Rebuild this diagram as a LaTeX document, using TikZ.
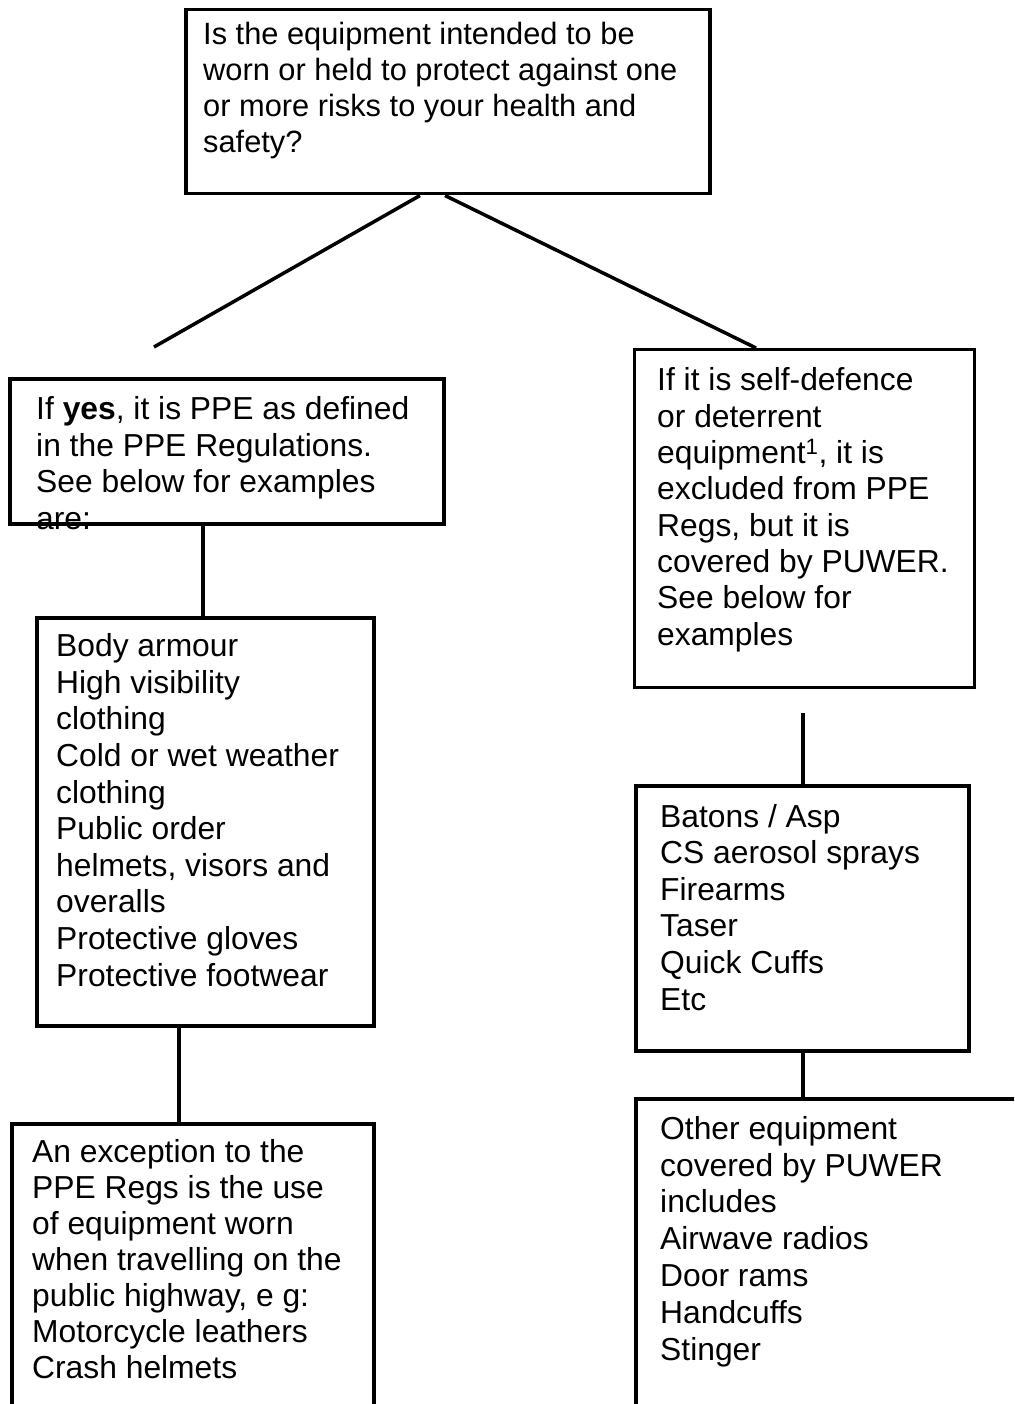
\documentclass[tikz,border=0pt]{standalone}
\usepackage{fontspec}
\setmainfont{Liberation Sans}
\usetikzlibrary{calc}
\begin{document}
\begin{tikzpicture}[x=1pt,y=-1pt,
  box/.style={draw, line width=3.5pt, rectangle, inner sep=0pt, anchor=north west},
  thinbox/.style={box, line width=2.6pt},
  conn/.style={draw, line width=3.5pt},
  txt/.style={anchor=base west, align=left, inner sep=0pt, font=\fontsize{31.8}{36.5}\selectfont}]
\useasboundingbox (0,0) rectangle (1014,1404);
\clip (0,0) rectangle (1014,1404);
\fill[white] (0,0) rectangle (1014,1404);
% boxes
\node[box, minimum width=524, minimum height=184] (q) at (184,8) {};
\node[box, minimum width=434, minimum height=145] (yes) at (8,377) {};
\node[box, minimum width=337, minimum height=408] (ppe) at (35,616) {};
\node[box, minimum width=362, minimum height=400] (exc) at (10,1122) {};
\node[thinbox, minimum width=340, minimum height=338] (def) at (633,348) {};
\node[box, minimum width=333, minimum height=265] (puw) at (634,784) {};
\node[box, minimum width=500, minimum height=400] (oth) at (634,1097) {};
% connectors
\coordinate (ql) at ($(q.south west)+(236,0)$);
\coordinate (qr) at ($(q.south west)+(261,0)$);
\coordinate (lend) at (154,347);
\coordinate (rtop) at (803,713);
\draw[conn] (ql) -- (lend);
\draw[conn] (qr) -- ($(def.north west)+(123,0)$);
\draw[conn] ($(yes.south west)+(195,0)$) -- ($(ppe.north west)+(168,0)$);
\draw[conn] ($(ppe.south west)+(144,0)$) -- ($(exc.north west)+(169,0)$);
\draw[conn] (rtop) -- (puw.north -| rtop);
\draw[conn] ($(puw.south west)+(169,0)$) -- ($(oth.north west)+(169,0)$);
% texts (anchored at the baseline of their last line)
\node[txt, font=\fontsize{30.8}{36}\selectfont] (tq) at (203,153) {Is the equipment intended to be\\worn or held to protect against one\\or more risks to your health and\\safety?};
\node[txt] (tyes) at (36,529) {If \textbf{yes}, it is PPE as defined\\in the PPE Regulations.\\See below for examples\\are:};
\node[txt, font=\fontsize{31.8}{36.6}\selectfont] (tppe) at (56,986) {Body armour\\High visibility\\clothing\\Cold or wet weather\\clothing\\Public order\\helmets, visors and\\overalls\\Protective gloves\\Protective footwear};
\node[txt, font=\fontsize{31.8}{36}\selectfont] (texc) at (32,1378) {An exception to the\\PPE Regs is the use\\of equipment worn\\when travelling on the\\public highway, e g:\\Motorcycle leathers\\Crash helmets};
\node[txt, font=\fontsize{31.8}{36.3}\selectfont] (tdef) at (657,645) {If it is self-defence\\or deterrent\\equipment\textsuperscript{1}, it is\\excluded from PPE\\Regs, but it is\\covered by PUWER.\\See below for\\examples};
\node[txt, font=\fontsize{31.8}{36.6}\selectfont] (tpuw) at (660,1010) {Batons / Asp\\CS aerosol sprays\\Firearms\\Taser\\Quick Cuffs\\Etc};
\node[txt, font=\fontsize{31.8}{36.8}\selectfont] (toth) at (660,1360) {Other equipment\\covered by PUWER\\includes\\Airwave radios\\Door rams\\Handcuffs\\Stinger};
\end{tikzpicture}
\end{document}
